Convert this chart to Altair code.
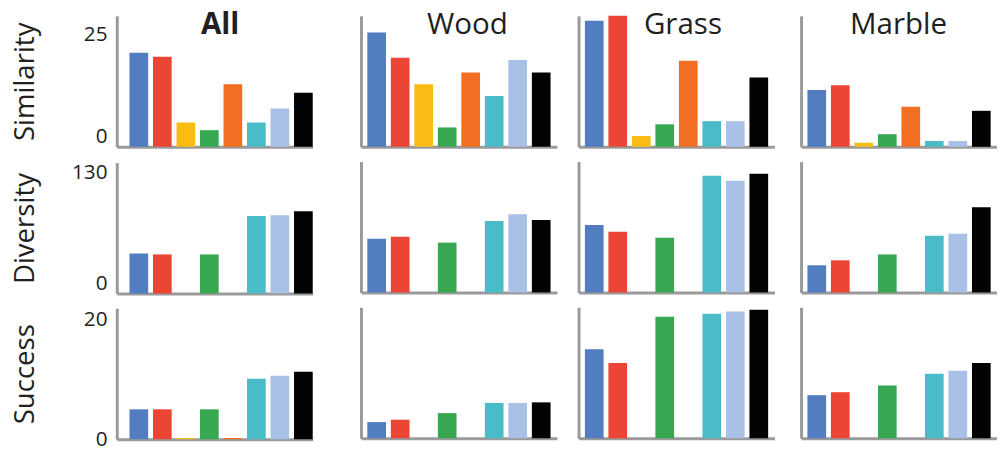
import altair as alt
import pandas as pd

materials = ["All", "Wood", "Grass", "Marble"]
metrics = ["Similarity", "Diversity", "Success"]
methods = ["M1", "M2", "M3", "M4", "M5", "M6", "M7", "M8"]
colors = ["#527dc0", "#ea4535", "#f9bc15", "#37a751", "#f16e22", "#4abcc7", "#a9c1e6", "#020305"]

similarity_all = [20.9, 20.0, 5.4, 3.7, 13.9, 5.4, 8.5, 12.0]
similarity_wood = [25.4, 19.8, 13.9, 4.3, 16.5, 11.3, 19.3, 16.5]
similarity_grass = [28.0, 29.1, 2.4, 5.0, 19.1, 5.7, 5.7, 15.4]
similarity_marble = [12.6, 13.7, 0.9, 2.8, 8.9, 1.3, 1.3, 8.0]

diversity_all = [43.0, 42.0, 0, 42.0, 0, 83.2, 84.2, 88.5]
diversity_wood = [57.8, 59.9, 0, 53.6, 0, 76.9, 84.2, 77.9]
diversity_grass = [72.6, 65.2, 0, 58.9, 0, 125.5, 120.2, 127.6]
diversity_marble = [29.3, 34.6, 0, 40.9, 0, 61.0, 63.1, 91.6]

success_all = [5.0, 5.0, 0.2, 5.0, 0.2, 10.1, 10.6, 11.3]
success_wood = [2.7, 3.1, 0, 4.2, 0, 5.9, 5.9, 6.0]
success_grass = [14.9, 12.6, 0, 20.3, 0, 20.8, 21.2, 21.5]
success_marble = [7.2, 7.7, 0, 8.8, 0, 10.8, 11.3, 12.6]

values = [
    [similarity_all, similarity_wood, similarity_grass, similarity_marble],
    [diversity_all, diversity_wood, diversity_grass, diversity_marble],
    [success_all, success_wood, success_grass, success_marble],
]
axis_max = [29.1, 140.7, 21.9]
tick_values = [[0, 25], [0, 130], [0, 20]]

TEXT = "#231f20"
FONT = "Open Sans"
PLOT_W, H = 199, 133
col_widths = [248, 221, 226, 199]   # distance from one panel's axis to the next
title_x = [105, 108, 106, 99]


def panel(ci, ri):
    df = pd.DataFrame({"method": methods, "value": values[ri][ci]})
    xscale = alt.Scale(range=[0, PLOT_W], paddingInner=0.205, paddingOuter=0.27,
                       align=1 if ci == 0 else 0.5)
    xaxis = alt.Axis(labels=False, ticks=False, title=None, domain=True)
    if ci == 0:
        if ri < 2:
            lb = {"condition": {"test": "datum.value == 0", "value": "bottom"}, "value": "middle"}
        else:
            lb = "middle"
        yaxis = alt.Axis(values=tick_values[ri], title=metrics[ri], titleX=-93,
                         titleBaseline="middle", titleAlign="center",
                         labelBaseline=lb, labelPadding=10, ticks=False, tickSize=0)
    else:
        yaxis = alt.Axis(labels=False, ticks=False, title=None, domain=True)
    bars = alt.Chart(df).mark_bar().encode(
        x=alt.X("method:N", sort=methods, scale=xscale, axis=xaxis),
        y=alt.Y("value:Q", scale=alt.Scale(domain=[0, axis_max[ri]], nice=False), axis=yaxis),
        color=alt.Color("method:N", scale=alt.Scale(domain=methods, range=colors), legend=None),
    )
    w = col_widths[ci]
    if ri == 0:
        tdf = pd.DataFrame({"title": [materials[ci]]})
        txt = alt.Chart(tdf).mark_text(
            font=FONT, fontSize=30, fontWeight="bold" if ci == 0 else "normal",
            color=TEXT, baseline="alphabetic", align="center"
        ).encode(x=alt.value(title_x[ci]), y=alt.value(18.5), text="title:N")
        return alt.layer(bars, txt).properties(width=w, height=H)
    return bars.properties(width=w, height=H)


def column(ci):
    return alt.vconcat(*[panel(ci, ri) for ri in range(3)], spacing=15)


chart = alt.hconcat(
    *[column(ci) for ci in range(4)], spacing=0
).properties(
    padding={"left": 3.5, "top": -1.5, "right": 0, "bottom": 0},
    background="white",
).configure_view(stroke=None).configure_axis(
    grid=False, domainColor="#9a9a9a", domainWidth=3, ticks=False,
    labelFont=FONT, labelFontSize=21, labelColor=TEXT,
    titleFont=FONT, titleFontSize=28, titleFontWeight="normal", titleColor=TEXT,
)

chart.save("out.html", embed_options={"renderer": "svg", "actions": False})
